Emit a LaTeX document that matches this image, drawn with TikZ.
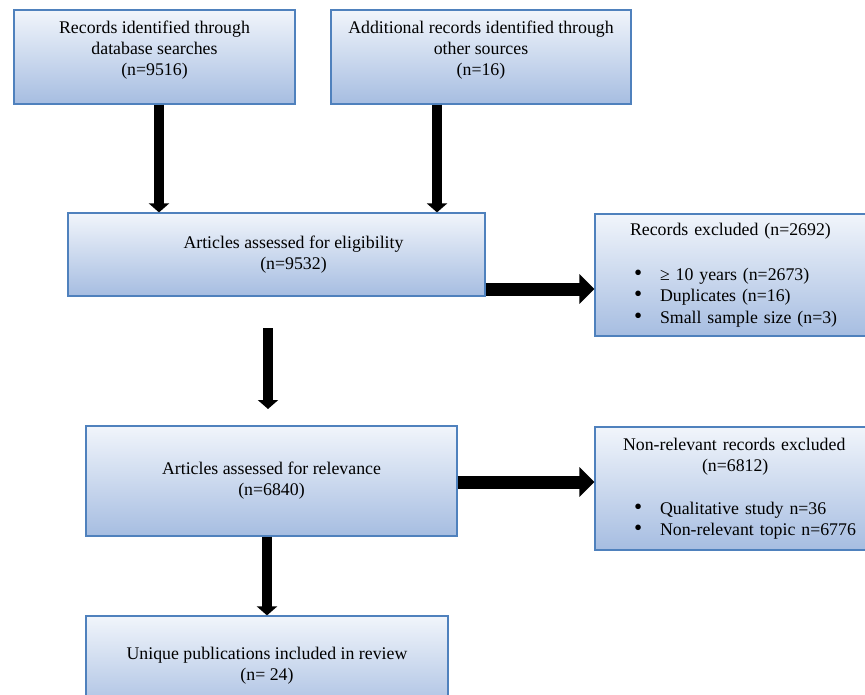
\documentclass[tikz,border=0pt]{standalone}
\usepackage{fontspec}
\setmainfont{Liberation Serif}
\usepackage{tikz}
\usetikzlibrary{arrows.meta}

\definecolor{boxline}{RGB}{79,129,189}
\definecolor{boxtop}{RGB}{241,245,251}
\definecolor{boxbottom}{RGB}{166,189,225}

\newcommand{\listitem}[1]{\hspace*{39pt}\makebox[26pt][l]{\scalebox{1.3}{\textbullet}}#1}

\begin{document}
\begin{tikzpicture}[x=1pt, y=-1pt,
  box/.style={draw=boxline, line width=1.2pt, top color=boxtop, bottom color=boxbottom,
    rectangle, inner sep=0pt, align=center, font=\fontsize{17.8}{20.8}\selectfont},
  listbox/.style={box, align=left, font=\fontsize{17.8}{21.5}\selectfont},
  downarrow/.style={line width=10pt, -{Triangle[width=20pt,length=9pt]}},
  sidearrow/.style={line width=13pt, -{Triangle[width=29pt,length=15pt]}}]
\useasboundingbox (0,0) rectangle (865,695);

% identification
\node[box, minimum width=281pt, minimum height=94pt] (db) at (154.5,57)
  {Records identified through\\database searches\\(n=9516)\\[-3pt]\mbox{}};
\node[box, minimum width=300pt, minimum height=94pt] (other) at (481,57)
  {Additional records identified through\\other sources\\(n=16)\\[-3pt]\mbox{}};

% screening
\node[box, minimum width=417pt, minimum height=83pt] (elig) at (276.5,254.5)
  {\hspace*{34pt}Articles assessed for eligibility\\\hspace*{34pt}(n=9532)};
\node[listbox, text width=272pt, minimum height=122pt] (excl) at (731,275)
  {\hspace*{35pt}Records excluded (n=2692)\\[23pt]
   \listitem{≥ 10 years (n=2673)}\\
   \listitem{Duplicates (n=16)}\\
   \listitem{Small sample size (n=3)}};

\node[box, minimum width=371pt, minimum height=110pt] (relev) at (271.5,481)
  {Articles assessed for relevance\\(n=6840)};
\node[listbox, text width=282pt, minimum height=123pt] (nonrel) at (736,488.5)
  {\hspace*{28pt}Non-relevant records excluded\\
   \hspace*{107pt}(n=6812)\\[21pt]
   \listitem{Qualitative study n=36}\\
   \listitem{Non-relevant topic n=6776}};

% included
\node[box, minimum width=362pt, minimum height=100pt] (final) at (267,666)
  {Unique publications included in review\\(n= 24)};

% arrows
\coordinate (a1) at ([xshift=4.5pt]db.south);
\coordinate (a2) at ([xshift=-44pt]other.south);
\coordinate (h1) at ([yshift=-34.5pt]elig.east);
\coordinate (h2) at ([yshift=-1pt]relev.east);
\coordinate (gapTop) at (268,328);
\coordinate (gapEnd) at (268,409);
\coordinate (a3) at ([xshift=-4.5pt]relev.south);

\draw[downarrow] (a1) -- (a1 |- elig.north);
\draw[downarrow] (a2) -- (a2 |- elig.north);
\draw[sidearrow] (h1) -- (h1 -| excl.west);
\draw[downarrow] (gapTop) -- (gapEnd);
\draw[sidearrow] (h2) -- (h2 -| nonrel.west);
\draw[downarrow] (a3) -- (a3 |- final.north);
\end{tikzpicture}
\end{document}
